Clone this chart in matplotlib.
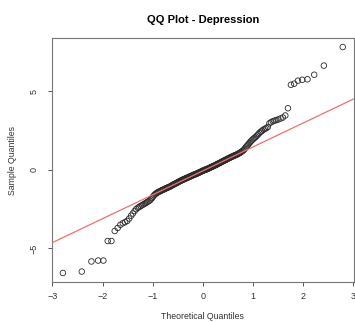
import statistics

import numpy as np
import matplotlib
matplotlib.use("Agg")
import matplotlib.pyplot as plt

plt.rcParams["font.family"] = ["Liberation Sans", "DejaVu Sans"]

# sorted depression scores (sample quantiles)
depression = [
    -6.56, -6.47, -5.83, -5.77, -5.77, -4.53, -4.53,
    -3.89, -3.70, -3.50, -3.40, -3.33, -3.25, -3.10, -2.92, -2.78, -2.62,
    -2.50, -2.42, -2.36, -2.30, -2.25, -2.20, -2.15, -2.10, -2.05, -2.00, -1.95, -1.88,
    -1.80, -1.70, -1.62, -1.55, -1.50, -1.46, -1.42, -1.39, -1.36, -1.33,
    -1.30, -1.27, -1.25, -1.22, -1.19, -1.17, -1.14, -1.12, -1.10, -1.08,
    -1.04, -1.02, -0.98, -0.95, -0.94, -0.90, -0.88, -0.86, -0.82, -0.81,
    -0.77, -0.76, -0.72, -0.70, -0.69, -0.65, -0.64, -0.61, -0.59, -0.58,
    -0.55, -0.54, -0.51, -0.50, -0.47, -0.46, -0.43, -0.42, -0.40, -0.37,
    -0.36, -0.34, -0.32, -0.30, -0.29, -0.27, -0.25, -0.24, -0.21, -0.20,
    -0.17, -0.16, -0.13, -0.12, -0.09, -0.07,
    -0.06, -0.03, -0.02, 0.00, 0.01, 0.03, 0.04, 0.07, 0.08, 0.11,
    0.12, 0.15, 0.16, 0.19, 0.20, 0.23, 0.24, 0.27, 0.28, 0.31,
    0.33, 0.35, 0.38, 0.40, 0.42,
    0.44, 0.47, 0.49, 0.52, 0.54, 0.57, 0.58, 0.61, 0.63, 0.66,
    0.68, 0.71, 0.73, 0.76, 0.78, 0.80, 0.83, 0.85, 0.87, 0.90,
    0.92, 0.94, 0.96,
    0.99, 1.02, 1.05, 1.08, 1.12, 1.16, 1.20, 1.25, 1.32, 1.40,
    1.48, 1.55, 1.62, 1.70, 1.78, 1.85, 1.92, 1.98, 2.04, 2.10,
    2.18, 2.26, 2.35, 2.42, 2.48, 2.55, 2.60, 2.65, 2.72,
    2.95, 3.02, 3.08, 3.12, 3.16, 3.20, 3.26, 3.32, 3.45, 3.91,
    5.40, 5.47, 5.66, 5.72, 5.75, 6.04, 6.62, 7.80,
]

x_ticks = [-3, -2, -1, 0, 1, 2, 3]
y_ticks = [-5, 0, 5]

# theoretical normal quantiles, ppoints style (i - 0.5) / n
n = len(depression)
nd = statistics.NormalDist()
teorico = np.array([nd.inv_cdf((i - 0.5) / n) for i in range(1, n + 1)])
muestra = np.sort(np.array(depression))

# reference line through the 1st and 3rd quartiles
q1, q3 = np.percentile(muestra, [25, 75])
z1, z3 = nd.inv_cdf(0.25), nd.inv_cdf(0.75)
pendiente = (q3 - q1) / (z3 - z1)
intercepto = q1 - pendiente * z1

fig = plt.figure(figsize=(3.55, 3.22), dpi=100)
ax = fig.add_axes([0.1456, 0.1242, 0.8514, 0.7578])

ax.scatter(teorico, muestra, s=16, facecolors="none", edgecolors="#2a2a2a",
           linewidths=0.6, zorder=2)
ax.axline((0, intercepto), slope=pendiente, color="#ee7070", linewidth=0.9, zorder=3)

ax.margins(x=0.04, y=0.04)

ax.set_xticks(x_ticks)
ax.set_yticks(y_ticks)
ax.tick_params(axis="both", direction="out", length=3, width=0.7,
               color="#555555", labelsize=6.5, labelcolor="#333333")
ax.tick_params(axis="x", pad=4)
ax.tick_params(axis="y", pad=6.5)
plt.setp(ax.get_yticklabels(), rotation=90, va="center")

for lado in ax.spines.values():
    lado.set_color("#777777")
    lado.set_linewidth(0.8)

ax.set_title("QQ Plot - Depression", fontsize=8, fontweight="bold", pad=11)
ax.set_xlabel("Theoretical Quantiles", fontsize=6.3, color="#333333")
ax.set_ylabel("Sample Quantiles", fontsize=6.3, color="#333333")
ax.xaxis.set_label_coords(0.5, -0.123)
ax.yaxis.set_label_coords(-0.115, 0.5)

fig.savefig("out.png", dpi=100)
